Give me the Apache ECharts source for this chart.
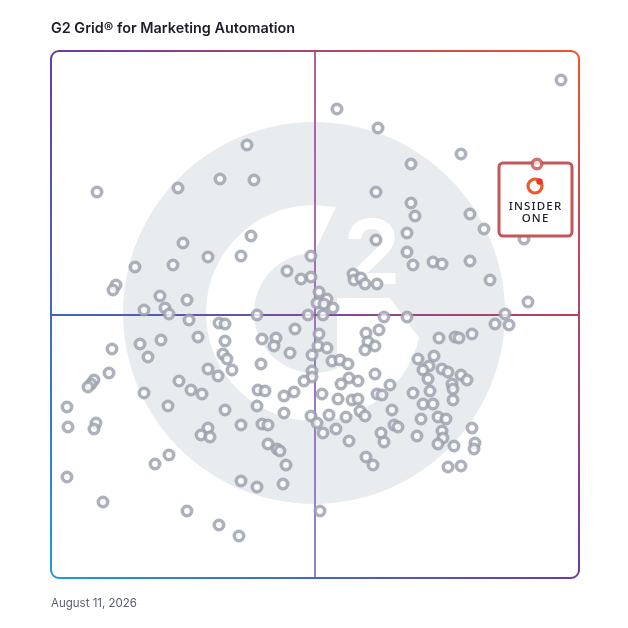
<!DOCTYPE html>
<html><head><meta charset="utf-8">
<script src="https://cdn.jsdelivr.net/npm/echarts@6/dist/echarts.min.js"></script>
<style>html,body{margin:0;padding:0;background:#fff}#c{width:628px;height:628px}</style>
</head><body><div id="c"></div>
<script>
// ---- data (grid units = reference pixels) ----
const titleText = 'G2 Grid\u00AE for Marketing Automation';
const dateText = 'August 11, 2026';
const highlightLabel = ['INSIDER', 'ONE'];
const highlightPoint = [[537, 164]];
const quadrantCenter = [315, 315];
const xRange = [51, 579];
const yRange = [51, 578];

const highPerformers = [[247,145],[220,179],[254,180],[178,188],[97,192],[251,236],[183,243],[208,257],[241,256],[311,256],[135,267],[173,265],[287,271],[311,277],[301,279],[116,285],[113,290],[160,296],[187,300],[144,310],[165,308],[169,314]];

const leaders = [[561,80],[337,109],[378,128],[461,154],[411,164],[376,192],[411,203],[415,216],[470,214],[484,229],[524,239],[407,233],[376,240],[407,252],[413,265],[433,262],[442,264],[470,261],[353,274],[354,280],[361,278],[365,284],[377,284],[490,280],[319,292],[327,299],[528,302],[317,303],[324,304],[333,308],[505,314]];

const niche = [[257,315],[308,315],[189,320],[219,323],[225,324],[295,329],[198,337],[262,339],[276,338],[161,340],[225,341],[140,344],[274,346],[112,349],[290,353],[223,354],[312,355],[148,357],[227,359],[261,364],[208,369],[232,370],[109,373],[312,371],[218,376],[312,377],[94,380],[179,381],[304,381],[91,384],[88,387],[258,390],[191,390],[265,391],[294,392],[144,393],[202,394],[284,396],[67,407],[168,406],[257,406],[225,410],[284,413],[311,416],[96,423],[94,429],[68,427],[208,428],[241,425],[262,424],[268,425],[201,435],[210,437],[268,444],[277,449],[280,451],[169,455],[155,464],[286,465],[67,477],[241,481],[283,484],[257,487],[103,502],[187,511],[219,525],[239,536]];

const contenders = [[323,315],[384,317],[407,317],[495,324],[509,325],[379,330],[366,333],[319,334],[472,334],[439,338],[455,337],[459,338],[368,342],[318,346],[375,346],[327,348],[365,350],[434,356],[418,359],[332,361],[340,360],[348,364],[429,366],[442,369],[423,370],[448,372],[375,374],[461,375],[349,378],[467,380],[358,381],[428,379],[341,384],[452,384],[390,385],[453,389],[430,391],[377,394],[413,393],[322,394],[382,395],[338,399],[352,400],[358,399],[453,400],[423,404],[433,404],[360,411],[392,410],[365,416],[329,415],[346,417],[438,417],[421,419],[446,419],[317,423],[394,425],[398,427],[472,428],[336,429],[323,433],[381,433],[442,431],[417,436],[443,438],[349,441],[384,442],[438,444],[475,443],[454,446],[474,449],[366,457],[373,465],[448,467],[461,466],[320,511]];

// watermark logo geometry (grid units)
const logoCenter = [314, 313];

// ---- chart ----
const chart = echarts.init(document.getElementById('c'), null, {renderer: 'canvas'});
const ringStyle = {color: '#ffffff', borderColor: '#9a9fab', borderWidth: 3.6};
function productSeries(name, data) {
  return {name, type: 'scatter', data, symbol: 'circle', symbolSize: 9.4, itemStyle: ringStyle, z: 5, silent: true, emphasis: {disabled: true}};
}
chart.setOption({
  animation: false,
  grid: {left: 51, top: 51, width: 528, height: 527, show: false},
  xAxis: {type: 'value', min: xRange[0], max: xRange[1], show: false},
  yAxis: {type: 'value', min: yRange[0], max: yRange[1], inverse: true, show: false},
  series: [
    productSeries('High Performers', highPerformers),
    productSeries('Leaders', leaders),
    productSeries('Niche', niche),
    productSeries('Contenders', contenders),
    {name: 'Insider One', type: 'scatter', data: highlightPoint, symbol: 'circle', symbolSize: 9.6, z: 20, silent: true,
     itemStyle: {color: '#ffffff', borderColor: '#c8514f', borderWidth: 3.4}}
  ]
});

const px = (pt) => chart.convertToPixel({gridIndex: 0}, pt);
const tl = px([xRange[0], yRange[0]]);
const br = px([xRange[1], yRange[1]]);
const cq = px(quadrantCenter);
const c = px(logoCenter);
const s = (px([logoCenter[0] + 100, logoCenter[1]])[0] - c[0]) / 100;
const hp = px(highlightPoint[0]);
const LG = echarts.graphic.LinearGradient;
const off = (dx, dy) => [c[0] + dx * s, c[1] + dy * s];

const graphics = [
  // watermark
  {type: 'circle', z: 0, silent: true, shape: {cx: c[0], cy: c[1], r: 191 * s}, style: {fill: '#e9ecef'}},
  {type: 'sector', z: 0, silent: true, shape: {cx: c[0], cy: c[1], r0: 60 * s, r: 108 * s, startAngle: 13 * Math.PI / 180, endAngle: 270 * Math.PI / 180, clockwise: true}, style: {fill: '#ffffff'}},
  {type: 'polygon', z: 0, silent: true, shape: {points: [off(0, -60), off(0, -108), off(22, -106)]}, style: {fill: '#ffffff'}},
  {type: 'polygon', z: 0, silent: true, shape: {points: [off(23, -15), off(76, -15), off(105, 25), off(57, 18), off(50, 32), off(40, 44), off(30, 52), off(23, 56)]}, style: {fill: '#ffffff'}},
  {type: 'text', z: 0, silent: true, style: {text: '2', x: off(58, -56)[0], y: off(58, -56)[1], align: 'center', verticalAlign: 'middle', fill: '#ffffff', font: '700 90px Inter'}},
  // quadrant lines
  {type: 'rect', z: 1, silent: true, shape: {x: cq[0] - 1, y: tl[1], width: 2, height: br[1] - tl[1]},
   style: {fill: new LG(0, 0, 0, 1, [{offset: 0, color: '#b0609e'}, {offset: 1, color: '#8c86cf'}])}},
  {type: 'rect', z: 1, silent: true, shape: {x: tl[0], y: cq[1] - 1, width: br[0] - tl[0], height: 2},
   style: {fill: new LG(0, 0, 1, 0, [{offset: 0, color: '#3a66c2'}, {offset: 0.5, color: '#7b4b9c'}, {offset: 1, color: '#c63d55'}])}},
  // border
  {type: 'rect', z: 1, silent: true, shape: {x: tl[0], y: tl[1], width: br[0] - tl[0], height: br[1] - tl[1], r: 8},
   style: {fill: 'none', lineWidth: 2, stroke: new LG(0, 1, 1, 0, [{offset: 0, color: '#1e9ad8'}, {offset: 0.5, color: '#6a3aa6'}, {offset: 1, color: '#f5522b'}])}},
  // highlight label box
  {type: 'group', x: hp[0], y: hp[1], z: 10, silent: true, children: [
    {type: 'rect', z: 10, shape: {x: -38, y: -1, width: 73, height: 73, r: 4}, style: {fill: '#ffffff', stroke: '#c45757', lineWidth: 3}},
    {type: 'circle', z: 11, shape: {cx: -2, cy: 22, r: 7}, style: {fill: 'none', stroke: '#ef5a2c', lineWidth: 3.2}},
    {type: 'circle', z: 11, shape: {cx: 2.5, cy: 17.5, r: 3.2}, style: {fill: '#e8382a'}},
    {type: 'text', z: 11, style: {text: highlightLabel[0].split('').join('\u200A'), x: -2, y: 43, align: 'center', verticalAlign: 'middle', fill: '#1e1e28', font: '500 11.5px "Noto Sans"'}},
    {type: 'text', z: 11, style: {text: highlightLabel[1].split('').join('\u200A'), x: -2, y: 55, align: 'center', verticalAlign: 'middle', fill: '#1e1e28', font: '500 11.5px "Noto Sans"'}}
  ]},
  // title and date
  {type: 'text', silent: true, style: {text: titleText, x: 51, y: 29, verticalAlign: 'middle', fill: '#1d1d2b', font: '600 14.4px Inter'}},
  {type: 'text', silent: true, style: {text: dateText, x: 51, y: 604, verticalAlign: 'middle', fill: '#5b6070', font: '400 11.5px Inter'}}
];
chart.setOption({graphic: graphics});
</script>
</body></html>
